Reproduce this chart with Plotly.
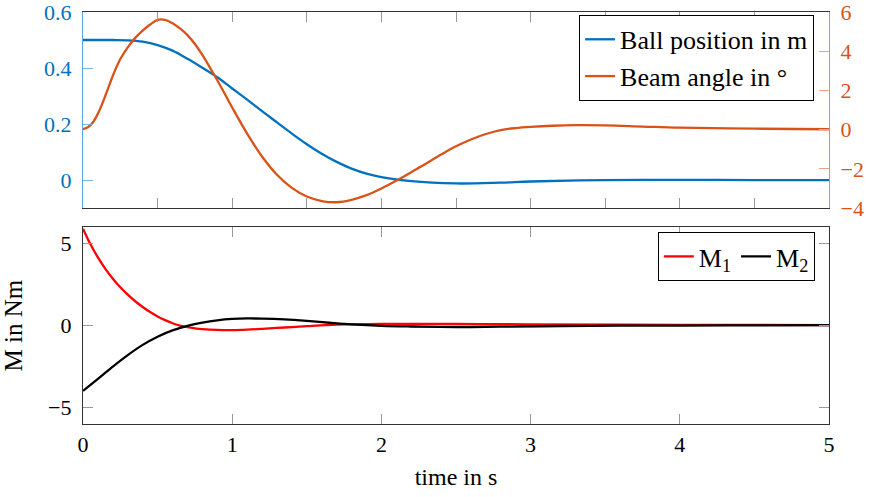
import plotly.graph_objects as go

# ---- data ----
t_ball = [0, 0.2, 0.3, 0.4, 0.5, 0.6, 0.7, 0.8, 0.9, 1.0, 1.1, 1.2, 1.3, 1.4, 1.5, 1.6, 1.7,
          1.8, 1.9, 2.0, 2.2, 2.5, 2.8, 3.0, 3.5, 4.0, 4.5, 5.0]
ball_pos = [0.5, 0.5, 0.499, 0.494, 0.482, 0.462, 0.433, 0.401, 0.367, 0.327, 0.287, 0.246,
            0.206, 0.166, 0.128, 0.094, 0.065, 0.041, 0.023, 0.011, -0.004, -0.012, -0.009,
            -0.005, 0.0, 0.001, 0.0, 0.0]

t_beam = [0, 0.033, 0.067, 0.1, 0.133, 0.167, 0.2, 0.25, 0.3, 0.35, 0.4, 0.45, 0.5, 0.55,
          0.6, 0.65, 0.7, 0.75, 0.8, 0.85, 0.9, 0.95, 1.0, 1.1, 1.2, 1.3, 1.4, 1.5, 1.6, 1.7,
          1.8, 1.9, 2.0, 2.1, 2.2, 2.3, 2.4, 2.5, 2.6, 2.7, 2.8, 2.9, 3.0, 3.15, 3.3, 3.5,
          3.75, 4.0, 4.5, 5.0]
beam_angle = [0.03, 0.12, 0.38, 0.82, 1.4, 2.08, 2.75, 3.6, 4.2, 4.68, 5.05, 5.36, 5.6, 5.6,
              5.43, 5.16, 4.82, 4.37, 3.81, 3.18, 2.52, 1.83, 1.13, -0.2, -1.37, -2.3, -2.97,
              -3.41, -3.64, -3.7, -3.58, -3.34, -3.0, -2.6, -2.17, -1.72, -1.27, -0.85, -0.5,
              -0.22, -0.02, 0.08, 0.14, 0.2, 0.23, 0.22, 0.16, 0.1, 0.05, 0.02]

t_m1 = [0, 0.05, 0.1, 0.15, 0.2, 0.25, 0.3, 0.35, 0.4, 0.45, 0.5, 0.55, 0.6, 0.65, 0.7, 0.75,
        0.8, 0.9, 1.0, 1.1, 1.2, 1.35, 1.5, 1.7, 2.0, 2.5, 3.0, 4.0, 5.0]
m1 = [5.9, 4.95, 4.15, 3.45, 2.85, 2.33, 1.88, 1.48, 1.13, 0.82, 0.55, 0.33, 0.14, 0.0, -0.1,
      -0.17, -0.22, -0.27, -0.28, -0.25, -0.2, -0.12, -0.04, 0.05, 0.1, 0.1, 0.07, 0.04, 0.03]

t_m2 = [0, 0.1, 0.2, 0.3, 0.4, 0.5, 0.6, 0.7, 0.8, 0.9, 1.0, 1.1, 1.2, 1.35, 1.5, 1.65, 1.8,
        2.0, 2.2, 2.5, 2.8, 3.2, 3.6, 4.0, 4.5, 5.0]
m2 = [-3.98, -3.25, -2.5, -1.8, -1.18, -0.68, -0.3, -0.02, 0.18, 0.32, 0.4, 0.43, 0.42, 0.37,
      0.28, 0.17, 0.07, -0.02, -0.06, -0.09, -0.07, -0.03, -0.01, 0.0, 0.01, 0.02]

x_ticks = [0, 1, 2, 3, 4, 5]
left_ticks = [0, 0.2, 0.4, 0.6]
left_labels = ["0", "0.2", "0.4", "0.6"]
right_ticks = [-4, -2, 0, 2, 4, 6]
right_labels = ["\u22124", "\u22122", "0", "2", "4", "6"]
m_ticks = [-5, 0, 5]
m_labels = ["\u22125", "0", "5"]

BLUE = "#0072BD"
ORANGE = "#D95319"
FONT = "Liberation Serif"
TICKFONT = 22

fig = go.Figure()
fig.add_trace(go.Scatter(x=t_ball, y=ball_pos, mode="lines", name="Ball position in m",
                         line=dict(color=BLUE, width=2.3, shape="spline"),
                         xaxis="x", yaxis="y", legend="legend"))
fig.add_trace(go.Scatter(x=t_beam, y=beam_angle, mode="lines", name="Beam angle in \u00b0",
                         line=dict(color=ORANGE, width=2.3, shape="spline"),
                         xaxis="x", yaxis="y2", legend="legend"))
fig.add_trace(go.Scatter(x=t_m1, y=m1, mode="lines", name="M<sub>1</sub>",
                         line=dict(color="#FF0000", width=2.3, shape="spline"),
                         xaxis="x2", yaxis="y3", legend="legend2"))
fig.add_trace(go.Scatter(x=t_m2, y=m2, mode="lines", name="M<sub>2</sub>",
                         line=dict(color="#000000", width=2.3, shape="spline"),
                         xaxis="x2", yaxis="y3", legend="legend2"))

frame = dict(showgrid=False, zeroline=False, showline=True, linewidth=1.2,
             ticks="inside", ticklen=10, tickwidth=1, automargin=False,
             ticklabeloverflow="allow")

fig.update_layout(
    width=873, height=497,
    margin=dict(l=83, r=44, t=12, b=73),
    paper_bgcolor="white", plot_bgcolor="white",
    font=dict(family=FONT, size=TICKFONT, color="black"),
    showlegend=True,
    xaxis=dict(domain=[0, 1], anchor="y", range=[0, 5], dtick=0.5, tick0=0,
               showticklabels=False, linecolor="#333333", mirror="ticks",
               tickcolor="#999999", **frame),
    yaxis=dict(domain=[0.524, 1], anchor="x", range=[-0.1, 0.6], tickvals=left_ticks,
               ticktext=left_labels, linecolor="#5aa6dc", tickcolor="#7ab8e3",
               tickfont=dict(color=BLUE, size=TICKFONT), ticklabelstandoff=6, **frame),
    yaxis2=dict(overlaying="y", side="right", anchor="x", range=[-4, 6],
                tickvals=right_ticks, ticktext=right_labels, linecolor="#e38a63",
                tickcolor="#e9a385", tickfont=dict(color=ORANGE, size=TICKFONT),
                ticklabelstandoff=6, **frame),
    xaxis2=dict(domain=[0, 1], anchor="y3", range=[0, 5], tickvals=x_ticks,
                ticktext=[str(v) for v in x_ticks], linecolor="#333333", mirror="ticks",
                tickcolor="#999999", ticklabelstandoff=0,
                title=dict(text="time in s", standoff=12, font=dict(size=24)), **frame),
    yaxis3=dict(domain=[0, 0.478], anchor="x2", range=[-6, 6], tickvals=m_ticks,
                ticktext=m_labels, linecolor="#333333", mirror="ticks", tickcolor="#999999",
                ticklabelstandoff=6,
                title=dict(text="M in Nm", standoff=18, font=dict(size=25)), **frame),
    legend=dict(x=0.98, y=0.993, xanchor="right", yanchor="top",
                bordercolor="black", borderwidth=1, bgcolor="white",
                font=dict(family=FONT, size=26), tracegroupgap=0),
    legend2=dict(x=0.981, y=0.466, xanchor="right", yanchor="top", orientation="h",
                 bordercolor="black", borderwidth=1, bgcolor="white",
                 font=dict(family=FONT, size=26)),
)

# remove the browser's default 8px page margin so the figure fills the window exactly
fig.write_html("out.html", config={"displayModeBar": False},
               post_script="document.body.style.margin='0';")
